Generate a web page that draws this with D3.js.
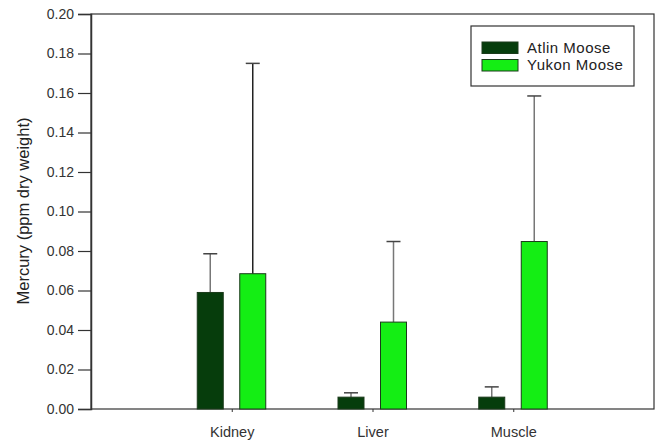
<!DOCTYPE html>
<html>
<head>
<meta charset="utf-8">
<script src="https://cdn.jsdelivr.net/npm/d3@7"></script>
<style>
  body { margin: 0; background: #fff; }
  #chart { width: 658px; height: 445px; }
  text { font-family: Arial, "Liberation Sans", sans-serif; }
</style>
</head>
<body>
<div id="chart"></div>
<script>
//Datos
const categories = ['Kidney', 'Liver', 'Muscle'];
const seriesNames = ['Atlin Moose', 'Yukon Moose'];
const atlinMean = [0.059, 0.006, 0.006];
const atlinUpper = [0.0786, 0.0082, 0.0112];
const yukonMean = [0.0685, 0.044, 0.0848];
const yukonUpper = [0.175, 0.0848, 0.1585];
const yTicks = [0, 0.02, 0.04, 0.06, 0.08, 0.10, 0.12, 0.14, 0.16, 0.18, 0.20];

//Colores
const COLOR_ATLIN = '#063d0c',
COLOR_YUKON = '#14ee14';

let margin = {top: 14, right: 4, bottom: 36, left: 91},
    width = 658 - margin.left - margin.right,
    height = 445 - margin.top - margin.bottom;

let svg = d3.select('#chart')
    .append('svg')
        .attr('width', 658)
        .attr('height', 445)
    .append('g')
        .attr('transform', 'translate(' + margin.left + ',' + margin.top + ')');

//Escala X: las categorías en 1, 2, 3 sobre un dominio 0-4
let x = d3.scaleLinear()
    .domain([0, categories.length + 1])
    .range([0, width]);

let y = d3.scaleLinear()
    .domain([0, 0.2])
    .range([height, 0]);

//Marco
svg.append('rect')
    .attr('x', 0).attr('y', 0)
    .attr('width', width).attr('height', height)
    .attr('fill', 'none')
    .attr('stroke', '#333')
    .attr('stroke-width', 1.2);

//Eje Y
svg.append('g')
    .call(d3.axisLeft(y).tickValues(yTicks).tickSize(13).tickPadding(4).tickFormat(d3.format('.2f')))
    .call(function(g) { g.select('.domain').attr('stroke', '#333').attr('stroke-width', 1.5); })
    .call(function(g) { g.selectAll('.tick line').attr('stroke', '#333').attr('stroke-width', 1.2); })
    .call(function(g) { g.selectAll('.tick text').attr('font-size', 14).attr('fill', '#333'); });

//Eje X
svg.append('g')
    .attr('transform', 'translate(0,' + height + ')')
    .call(d3.axisBottom(x).tickValues([1, 2, 3]).tickSize(3).tickPadding(15).tickFormat(function(d) { return categories[d - 1]; }))
    .call(function(g) { g.select('.domain').remove(); })
    .call(function(g) { g.selectAll('.tick line').attr('stroke', '#333'); })
    .call(function(g) { g.selectAll('.tick text').attr('font-size', 14.5).attr('fill', '#333'); });

//Título eje Y
svg.append('text')
    .attr('transform', 'translate(' + (29 - margin.left) + ',' + (211 - margin.top) + ') rotate(-90)')
    .attr('text-anchor', 'middle')
    .attr('font-size', 16.5)
    .attr('fill', '#222')
    .text('Mercury (ppm dry weight)');

//Barras
let barW = 26;
let series = [
    {name: seriesNames[0], mean: atlinMean, upper: atlinUpper, color: COLOR_ATLIN, off: -34.5, err: '#777'},
    {name: seriesNames[1], mean: yukonMean, upper: yukonUpper, color: COLOR_YUKON, off: 8, err: '#777'}
];

series.forEach(function(s) {
    let data = categories.map(function(c, i) { return {i: i + 1, v: s.mean[i], u: s.upper[i]}; });

    //Barras de error (solo superior)
    svg.selectAll(null)
        .data(data)
        .enter()
        .append('line')
        .attr('x1', function(d) { return x(d.i) + s.off + barW / 2; })
        .attr('x2', function(d) { return x(d.i) + s.off + barW / 2; })
        .attr('y1', function(d) { return y(d.v); })
        .attr('y2', function(d) { return y(d.u); })
        .attr('stroke', function(d, i) { return (s.name == 'Yukon Moose' && i == 0) ? '#222' : s.err; })
        .attr('stroke-width', 1.5);

    svg.selectAll(null)
        .data(data)
        .enter()
        .append('line')
        .attr('x1', function(d) { return x(d.i) + s.off + barW / 2 - 7; })
        .attr('x2', function(d) { return x(d.i) + s.off + barW / 2 + 7; })
        .attr('y1', function(d) { return y(d.u); })
        .attr('y2', function(d) { return y(d.u); })
        .attr('stroke', '#444')
        .attr('stroke-width', 1.5);

    svg.selectAll(null)
        .data(data)
        .enter()
        .append('rect')
        .attr('x', function(d) { return x(d.i) + s.off; })
        .attr('y', function(d) { return y(d.v); })
        .attr('width', barW)
        .attr('height', function(d) { return height - y(d.v); })
        .attr('fill', s.color)
        .attr('stroke', '#1a3a1a')
        .attr('stroke-width', 1);
});

//Leyenda
let legend = svg.append('g')
    .attr('transform', 'translate(' + (471 - margin.left) + ',' + (26 - margin.top) + ')');

legend.append('rect')
    .attr('width', 163).attr('height', 60)
    .attr('fill', '#fff')
    .attr('stroke', '#333')
    .attr('stroke-width', 1.2);

series.forEach(function(s, i) {
    legend.append('rect')
        .attr('x', 11).attr('y', 16 + i * 17.5)
        .attr('width', 36).attr('height', 11.5)
        .attr('fill', s.color)
        .attr('stroke', '#1a3a1a');
    legend.append('text')
        .attr('x', 56).attr('y', 26.5 + i * 17.7)
        .attr('font-size', 15)
        .attr('letter-spacing', 0.5)
        .attr('fill', '#222')
        .text(s.name);
});
</script>
</body>
</html>
